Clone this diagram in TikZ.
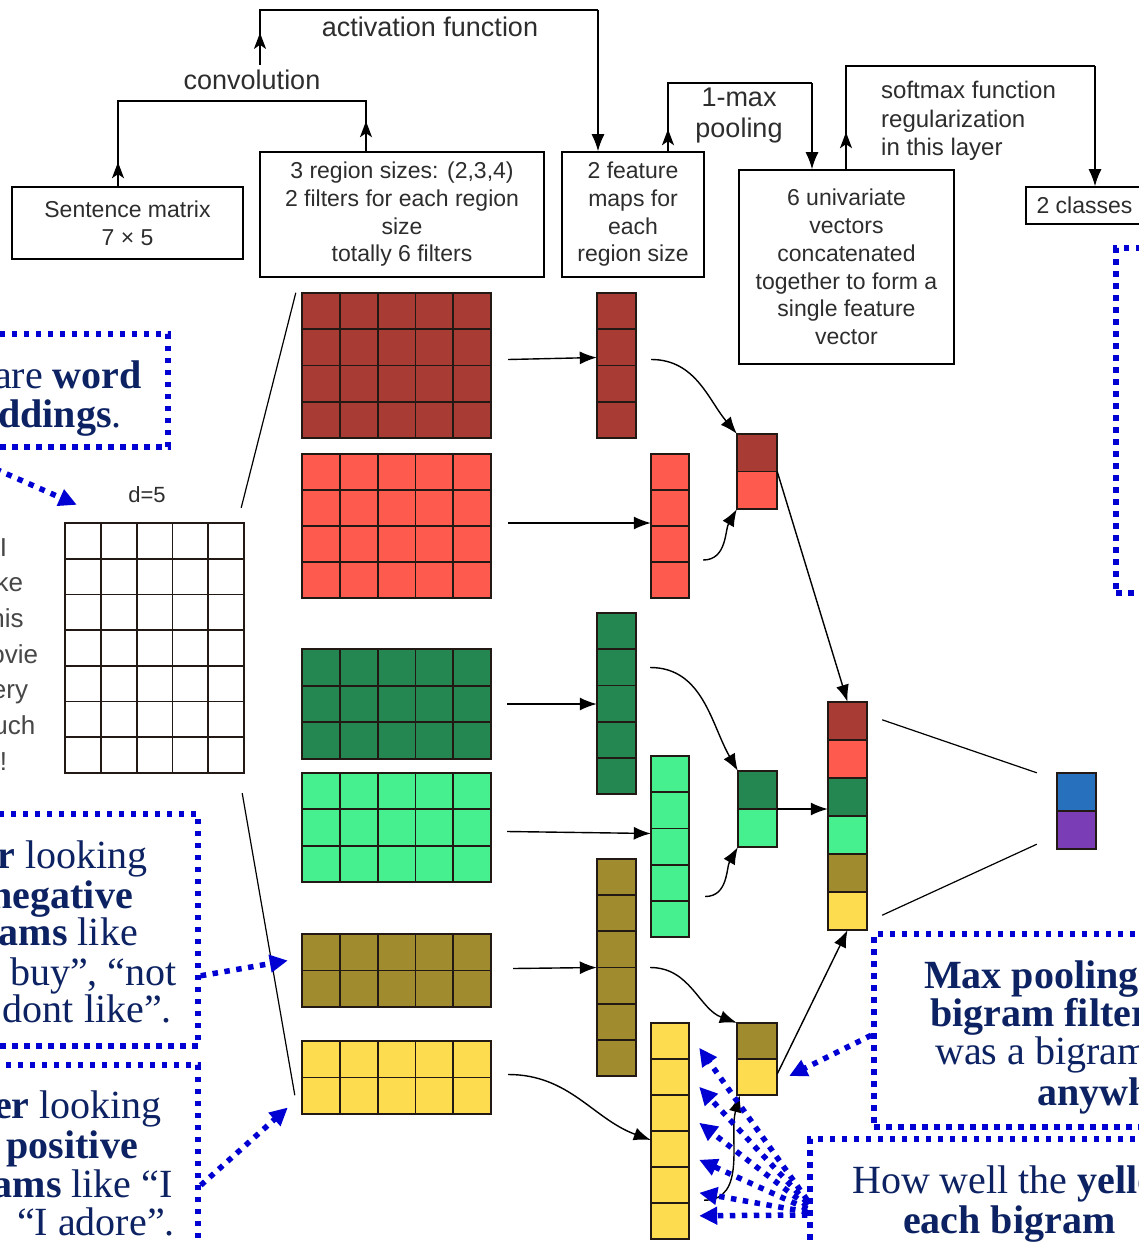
\documentclass[tikz,border=0pt]{standalone}
\usepackage{fontspec}
\setmainfont{Liberation Sans}
\newfontfamily\annfont{Liberation Serif}
\usetikzlibrary{arrows.meta,fit,calc}
\definecolor{cDR}{RGB}{168,59,52}
\definecolor{cR}{RGB}{254,90,78}
\definecolor{cDG}{RGB}{36,134,80}
\definecolor{cLG}{RGB}{70,240,142}
\definecolor{cOl}{RGB}{160,139,47}
\definecolor{cYe}{RGB}{253,221,79}
\definecolor{cBl}{RGB}{38,112,190}
\definecolor{cPu}{RGB}{122,61,182}
\definecolor{dotblue}{RGB}{0,0,210}
\definecolor{navy}{RGB}{12,34,98}
\definecolor{lbl}{RGB}{45,45,45}
\definecolor{gline}{RGB}{35,25,20}
\tikzset{
  conn/.style={draw=black, line width=1.4pt},
  arr/.style={conn, -{Latex[length=17pt,width=13pt]}},
  uparr/.style={conn, -{Stealth[length=16pt,width=12pt,inset=4pt]}},
  boxn/.style={draw=black, line width=1.6pt, text=lbl, align=center, inner sep=0pt, font=\fontsize{23}{27.7}\selectfont},
  toplbl/.style={text=lbl, inner sep=0pt, align=center, font=\fontsize{27}{31}\selectfont},
  dotbox/.style={draw=dotblue, line width=5.5pt, dash pattern=on 5.5pt off 6.5pt, inner sep=0pt},
  dotarr/.style={draw=dotblue, line width=5.5pt, dash pattern=on 5.5pt off 6.5pt, -{Triangle[length=18pt,width=17pt]}},
  ann/.style={text=navy, inner sep=0pt, font=\annfont\fontsize{40}{40}\selectfont},
  word/.style={text=black!72, inner sep=0pt, anchor=base, font=\fontsize{26}{26}\selectfont},
}
% name, x0, y0, x1, y1, cols, rows, colour
\newcommand\cellgrid[8]{%
  \fill[#8] (#2,#3) rectangle (#4,#5);
  \foreach \k in {0,...,#6} \draw[gline, line width=1.8pt, line cap=rect] ({#2+(#4-#2)*\k/#6},#3) -- ({#2+(#4-#2)*\k/#6},#5);
  \foreach \k in {0,...,#7} \draw[gline, line width=1.8pt, line cap=rect] (#2,{#3+(#5-#3)*\k/#7}) -- (#4,{#3+(#5-#3)*\k/#7});
  \node[fit={(#2,#3) (#4,#5)}, inner sep=0pt] (#1) {};}
% name, x0, y0, x1, y1, cells, colour list
\newcommand\colorcol[7]{%
  \foreach \cc [count=\n from 0] in {#7}{%
    \filldraw[fill=\cc, draw=gline, line width=1.8pt] (#2,{#3+(#5-#3)*\n/#6}) rectangle (#4,{#3+(#5-#3)*(\n+1)/#6});}
  \node[fit={(#2,#3) (#4,#5)}, inner sep=0pt] (#1) {};}
\begin{document}
\begin{tikzpicture}[x=1pt,y=-1pt]
\useasboundingbox (0,0) rectangle (1139,1242);
\fill[white] (0,0) rectangle (1139,1242);
\clip (0,0) rectangle (1139,1242);

% ---------- top labelled boxes ----------
\node[boxn, minimum width=231pt, minimum height=72pt] (sm) at (127.5,223) {Sentence matrix\\7 × 5};
\node[boxn, minimum width=284pt, minimum height=125pt] (fb) at (402,214.5) {3 region sizes: (2,3,4)\\2 filters for each region\\size\\totally 6 filters};
\node[boxn, minimum width=142pt, minimum height=125pt] (fm) at (633,214.5) {2 feature\\maps for\\each\\region size};
\node[boxn, minimum width=215pt, minimum height=194pt] (cb) at (846.5,267) {6 univariate\\vectors\\concatenated\\together to form a\\single feature\\vector};
\node[boxn, minimum width=117pt, minimum height=37pt] (cls) at (1084.5,205.5) {2 classes};

\node[toplbl] (act) at (430,27) {activation function};
\node[toplbl] (conv) at (252,80) {convolution};
\node[toplbl] (mp) at (739,116) {1-max\\pooling};
\node[text=lbl, inner sep=0pt, align=left, anchor=west, font=\fontsize{24}{28.5}\selectfont] (smx) at (881,121) {softmax function\\regularization\\in this layer};

% top connectors
\coordinate (j1) at (118,101); \coordinate (j2) at (366,101);
\draw[conn] (sm.north -| j1) -- (j1) -- (j2) -- (fb.north -| j2);
\draw[uparr] (sm.north -| j1) -- ++(0,-24);
\draw[uparr] (fb.north -| j2) -- ++(0,-30);

\coordinate (k1) at (260,10); \coordinate (k2) at (598,10);
\draw[conn] ([yshift=5pt]conv.north -| k1) -- (k1) -- (k2);
\draw[arr] (k2) -- (fm.north -| k2);
\draw[uparr] ([yshift=5pt]conv.north -| k1) -- ++(0,-32);

\coordinate (q1) at (668,83); \coordinate (q2) at (812,83);
\draw[conn] (fm.north -| q1) -- (q1) -- (q2);
\draw[arr] (q2) -- (cb.north -| q2);
\draw[uparr] (fm.north -| q1) -- ++(0,-22);

\coordinate (r1) at (846,66); \coordinate (r2) at (1095,66);
\draw[conn] (cb.north -| r1) -- (r1) -- (r2);
\draw[arr] (r2) -- (cls.north -| r2);
\draw[uparr] (cb.north -| r1) -- ++(0,-37);

% ---------- sentence matrix ----------
\node[text=lbl, inner sep=0pt, font=\fontsize{22}{22}\selectfont] (d5) at (147,495) {d=5};
\cellgrid{sg}{65}{523}{244}{773}{5}{7}{white}
\foreach \w [count=\i from 0] in {I,like,this,movie,very,much,!}
  \node[word] (w\i) at (3.5,{556+35.7*\i}) {\w};

% ---------- filters ----------
\cellgrid{f1}{302}{293}{491}{438}{5}{4}{cDR}
\cellgrid{f2}{302}{454}{491}{598}{5}{4}{cR}
\cellgrid{f3}{302}{649}{491}{759}{5}{3}{cDG}
\cellgrid{f4}{302}{773}{491}{882}{5}{3}{cLG}
\cellgrid{f5}{302}{934}{491}{1007}{5}{2}{cOl}
\cellgrid{f6}{302}{1041}{491}{1114}{5}{2}{cYe}

% ---------- feature maps ----------
\cellgrid{m1}{597}{293}{636}{438}{1}{4}{cDR}
\cellgrid{m2}{651}{454}{689}{598}{1}{4}{cR}
\cellgrid{m3}{597}{613}{636}{794}{1}{5}{cDG}
\cellgrid{m4}{651}{756}{689}{937}{1}{5}{cLG}
\cellgrid{m5}{597}{859}{636}{1076}{1}{6}{cOl}
\cellgrid{m6}{651}{1023}{689}{1239}{1}{6}{cYe}

% ---------- pooled, concatenated, output ----------
\colorcol{p1}{737}{434}{777}{509}{2}{cDR,cR}
\colorcol{p2}{738}{771}{777}{847}{2}{cDG,cLG}
\colorcol{p3}{737}{1023}{777}{1095}{2}{cOl,cYe}
\colorcol{c}{828}{702}{867}{930}{6}{cDR,cR,cDG,cLG,cOl,cYe}
\colorcol{o}{1057}{773}{1096}{849}{2}{cBl,cPu}

% ---------- black connectors ----------
\draw[conn, line width=1.2pt] ([shift={(-3,-15)}]sg.north east) -- ([shift={(-6,0)}]f1.north west);
\draw[conn, line width=1.2pt] ([shift={(-2,20)}]sg.south east) -- ([shift={(-7,-19)}]f6.south west);

\draw[arr] ([shift={(17,-6)}]f1.east) -- ([shift={(0,-8)}]m1.west);
\draw[arr] ([shift={(17,-3)}]f2.east) -- ([shift={(0,-3)}]m2.west);
\draw[arr] ([xshift=16pt]f3.east) -- (f3.east -| m3.west);
\draw[arr] ([shift={(16,4)}]f4.east) -- ($(f4.east -| m4.west)+(0,6)$);
\draw[arr] ([shift={(22,-2)}]f5.east) -- (m5.west);
\draw[arr] ([shift={(17,-3)}]f6.east) to[out=0,in=160] ([shift={(0,9)}]m6.west);

\draw[arr] ([shift={(15,-6)}]m1.east) to[out=0,in=130] (p1.north west);
\draw[arr] ([shift={(14,34)}]m2.east) to[out=0,in=240] (p1.south west);
\draw[arr] ([shift={(14,-36)}]m3.east) to[out=0,in=120] (p2.north west);
\draw[arr] ([shift={(16,50)}]m4.east) to[out=0,in=240] (p2.south west);
\draw[arr] ([xshift=14pt]m5.east) to[out=0,in=160] (p3.north west);
\draw[arr] ([shift={(15,-39)}]m6.south east) to[out=0,in=255] ([xshift=3pt]p3.south west);

\draw[arr] (p1.east) -- (c.north);
\draw[arr] (p2.east) -- (p2.east -| c.west);
\draw[arr] ([yshift=-15pt]p3.east) -- (c.south);

\draw[conn, line width=1.2pt] ([shift={(15,18)}]c.north east) -- ([shift={(-20,0)}]o.north west);
\draw[conn, line width=1.2pt] ([shift={(15,-15)}]c.south east) -- ([shift={(-20,-5)}]o.south west);

% ---------- blue dotted annotation boxes ----------
\node[dotbox, fit={(-300,334) (168,447)}] (bx1) {};
\node[dotbox, fit={(-300,814) (198,1046)}] (bx2) {};
\node[dotbox, fit={(-300,1065) (198,1400)}] (bx3) {};
\node[dotbox, fit={(874,934) (1400,1127)}] (bx4) {};
\node[dotbox, fit={(810,1139) (1400,1400)}] (bx5) {};
\node[dotbox, fit={(1116,248) (1400,593)}] (bx6) {};

\node[ann, anchor=base east] (a1) at (142,388) {are \textbf{word}};
\node[ann, anchor=base east] (a2) at (122,427) {\textbf{ddings}.};

\node[ann, anchor=base east] (n1) at (148,868) {\textbf{Filter} looking};
\node[ann, anchor=base east] (n2) at (133,908) {\textbf{negative}};
\node[ann, anchor=base east] (n3) at (138,945) {\textbf{bigrams} like};
\node[ann, anchor=base east] (n4) at (177,985) {buy”, “not};
\node[ann, anchor=base east] (n5) at (172,1022) {dont like”.};

\node[ann, anchor=base east] (s1) at (162,1118) {\textbf{Filter} looking};
\node[ann, anchor=base east] (s2) at (138,1158) {\textbf{positive}};
\node[ann, anchor=base east] (s3) at (173,1197) {\textbf{bigrams} like “I};
\node[ann, anchor=base east] (s4) at (175,1235) {“I adore”.};

\node[ann, anchor=base west] (x1) at (924,988) {\textbf{Max pooling}};
\node[ann, anchor=base west] (x2) at (930,1026) {\textbf{bigram filter}};
\node[ann, anchor=base west] (x3) at (935,1064) {was a bigram};
\node[ann, anchor=base west] (x4) at (1037,1105) {\textbf{anywhere}};

\node[ann, anchor=base west] (y1) at (852,1193) {How well the \textbf{yellow}};
\node[ann, anchor=base west] (y2) at (903,1233) {\textbf{each bigram}};

% ---------- blue dotted arrows ----------
\draw[dotarr] ([xshift=-219pt]bx1.south east) -- ([shift={(12,-18)}]sg.north west);
\draw[dotarr] ([shift={(0,-73)}]bx2.south east) -- ([shift={(-14,-10)}]f5.west);
\draw[dotarr] ([shift={(0,123)}]bx3.north east) -- ([shift={(-14,30)}]f6.west);
\draw[dotarr] ([shift={(0,104)}]bx4.north west) -- ([shift={(12,17)}]p3.east);
\foreach \dy/\sy in {25/1200, 64/1203, 100/1206, 137/1209, 170/1212, 193/1215}
  \draw[dotarr] (bx5.north west |- 0,\sy) -- ([shift={(10,\dy)}]m6.north east);
\end{tikzpicture}
\end{document}
